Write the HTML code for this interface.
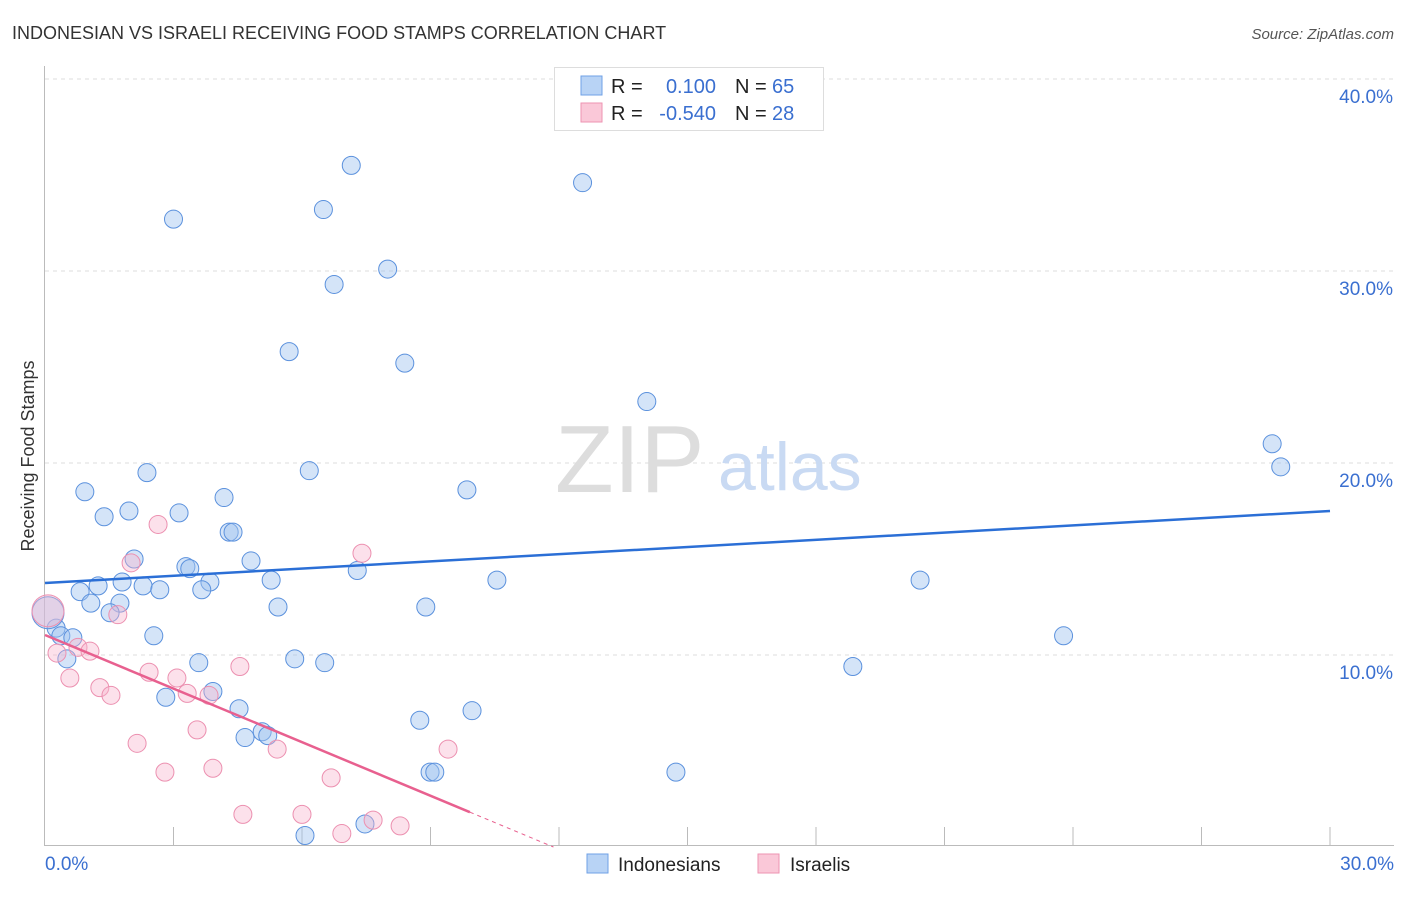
<!DOCTYPE html>
<html><head><meta charset="utf-8"><style>
body{margin:0;background:#fff;font-family:"Liberation Sans",sans-serif}
svg text{font-family:"Liberation Sans",sans-serif}
</style></head><body>
<svg id="chart" width="1406" height="892" viewBox="0 0 1406 892">
<text x="12" y="39" font-size="18" fill="#333">INDONESIAN VS ISRAELI RECEIVING FOOD STAMPS CORRELATION CHART</text>
<text x="1394" y="39" font-size="15" fill="#555" text-anchor="end" font-style="italic">Source: ZipAtlas.com</text>
<text x="34" y="456" font-size="18" fill="#333" text-anchor="middle" transform="rotate(-90 34 456)">Receiving Food Stamps</text>
<g id="grid"></g>
<g id="axes"></g>
<text x="555" y="492" font-size="96" fill="#ddd" font-family="Liberation Serif">ZIP</text>
<text x="718" y="490" font-size="68" fill="#c9daf3">atlas</text>
<g id="pts"></g>
<g id="lines"></g>
<g>
<rect x="554.5" y="67.5" width="269" height="63" fill="#fff" stroke="#ddd"/>
<rect x="581" y="76" width="21" height="19" fill="#b8d3f5" stroke="#6fa0e6"/>
<rect x="581" y="103" width="21" height="19" fill="#fac8d8" stroke="#ee93b2"/>
<text x="611" y="93" font-size="20" fill="#222">R =</text>
<text x="716" y="93" font-size="20" fill="#3a6fd0" text-anchor="end">0.100</text>
<text x="735" y="93" font-size="20" fill="#222">N =</text>
<text x="772" y="93" font-size="20" fill="#3a6fd0">65</text>
<text x="611" y="120" font-size="20" fill="#222">R =</text>
<text x="716" y="120" font-size="20" fill="#3a6fd0" text-anchor="end">-0.540</text>
<text x="735" y="120" font-size="20" fill="#222">N =</text>
<text x="772" y="120" font-size="20" fill="#3a6fd0">28</text>
</g>
<g>
<rect x="587" y="854" width="21" height="19" fill="#b8d3f5" stroke="#6fa0e6"/>
<text x="618" y="871" font-size="19" fill="#222">Indonesians</text>
<rect x="758" y="854" width="21" height="19" fill="#fac8d8" stroke="#ee93b2"/>
<text x="790" y="871" font-size="19" fill="#222">Israelis</text>
</g>
</svg>
<script>
const yTicks=[10,20,30,40];
const yTickLabels=["10.0%","20.0%","30.0%","40.0%"];
const xTickLabels=["0.0%","30.0%"];
const blueX=[3.0,6.5,7.15,12.55,6.75,8.0,5.7,8.4,14.05,28.65,28.85,0.93,2.38,6.17,9.85,4.18,1.38,1.96,3.13,4.3,4.39,2.08,4.81,3.29,3.38,7.29,10.55,20.43,1.24,1.8,2.29,3.85,0.82,2.68,3.66,5.28,1.07,1.75,5.44,8.89,1.52,0.26,0.37,0.65,2.54,0.51,3.59,5.83,6.53,23.78,18.86,3.92,2.82,4.53,9.97,8.75,4.67,5.07,5.2,8.99,9.1,14.73,7.47,6.07,0.07];
const blueY=[32.7,33.2,35.5,34.6,29.3,30.1,25.8,25.2,23.2,21.0,19.8,18.5,19.5,19.6,18.6,18.2,17.2,17.5,17.4,16.4,16.4,15.0,14.9,14.6,14.5,14.4,13.9,13.9,13.6,13.8,13.6,13.8,13.3,13.4,13.4,13.9,12.7,12.7,12.5,12.5,12.2,11.4,11.0,10.9,11.0,9.8,9.6,9.8,9.6,11.0,9.4,8.1,7.8,7.2,7.1,6.6,5.7,6.0,5.8,3.9,3.9,3.9,1.2,0.6,12.2];
const blueR=[9,9,9,9,9,9,9,9,9,9,9,9,9,9,9,9,9,9,9,9,9,9,9,9,9,9,9,9,9,9,9,9,9,9,9,9,9,9,9,9,9,9,9,9,9,9,9,9,9,9,9,9,9,9,9,9,9,9,9,9,9,9,9,9,16];
const pinkX=[2.64,7.4,2.01,1.7,0.28,0.77,1.05,0.58,1.28,1.54,2.43,3.08,3.32,3.83,4.55,2.15,3.55,5.42,2.8,3.92,6.68,9.41,4.62,6.0,7.66,6.93,8.29,0.07];
const pinkY=[16.8,15.3,14.8,12.1,10.1,10.4,10.2,8.8,8.3,7.9,9.1,8.8,8.0,7.9,9.4,5.4,6.1,5.1,3.9,4.1,3.6,5.1,1.7,1.7,1.4,0.7,1.1,12.3];
const pinkR=[9,9,9,9,9,9,9,9,9,9,9,9,9,9,9,9,9,9,9,9,9,9,9,9,9,9,9,16];
const blueTrend=[13.75,17.5];
const pinkTrend=[11.04,-0.93];
const X=v=>45+v/30*1285, Y=v=>847-v*19.2;
const ns="http://www.w3.org/2000/svg";
function mk(tag,attrs,parent){const e=document.createElementNS(ns,tag);for(const k in attrs)e.setAttribute(k,attrs[k]);parent.appendChild(e);return e;}
const grid=document.getElementById('grid'),axes=document.getElementById('axes');
yTicks.forEach((t,i)=>{
 const l=mk('line',{x1:45,x2:1394,y1:Y(t),y2:Y(t),stroke:'#ddd','stroke-dasharray':'4,4'},grid);
 
 
 const tx=mk('text',{x:1393,y:Y(t)+24,'font-size':19,fill:'#3a6fd0','text-anchor':'end'},axes);
 tx.textContent=yTickLabels[i];
 
 
});
const ax=mk('line',{x1:44.5,x2:44.5,y1:66,y2:846,stroke:'#bbb'},axes);


const bx=mk('line',{x1:44,x2:1394,y1:845.5,y2:845.5,stroke:'#bbb'},axes);


for(let i=1;i<=10;i++){const t=mk('line',{x1:X(i*3),x2:X(i*3),y1:827,y2:845,stroke:'#bbb'},axes);
 
 }
const xl0=mk('text',{x:45,y:870,'font-size':19,fill:'#3a6fd0'},axes);xl0.textContent=xTickLabels[0];


const xl1=mk('text',{x:1394,y:870,'font-size':19,fill:'#3a6fd0','text-anchor':'end'},axes);xl1.textContent=xTickLabels[1];


const pts=document.getElementById('pts');
blueX.forEach((v,i)=>{const c=mk('circle',{cx:X(v),cy:Y(blueY[i]),r:blueR[i],fill:'rgba(160,196,240,0.45)',stroke:'#5b91dd','stroke-width':1},pts);
 
 });
pinkX.forEach((v,i)=>{const c=mk('circle',{cx:X(v),cy:Y(pinkY[i]),r:pinkR[i],fill:'rgba(248,180,204,0.4)',stroke:'#ec90b0','stroke-width':1},pts);
 
 });
const lines=document.getElementById('lines');
const bl=mk('line',{x1:X(0),y1:Y(blueTrend[0]),x2:X(30),y2:Y(blueTrend[1]),stroke:'#2b6fd6','stroke-width':2.5},lines);


const pe=9.92, pz=-pinkTrend[0]/pinkTrend[1];
const pl=mk('line',{x1:X(0),y1:Y(pinkTrend[0]),x2:X(pe),y2:Y(pinkTrend[0]+pinkTrend[1]*pe),stroke:'#e8608f','stroke-width':2.5},lines);


const pd=mk('line',{x1:X(pe),y1:Y(pinkTrend[0]+pinkTrend[1]*pe),x2:X(pz),y2:Y(0),stroke:'#e8608f','stroke-width':1,'stroke-dasharray':'4,4'},lines);


</script>
</body></html>
